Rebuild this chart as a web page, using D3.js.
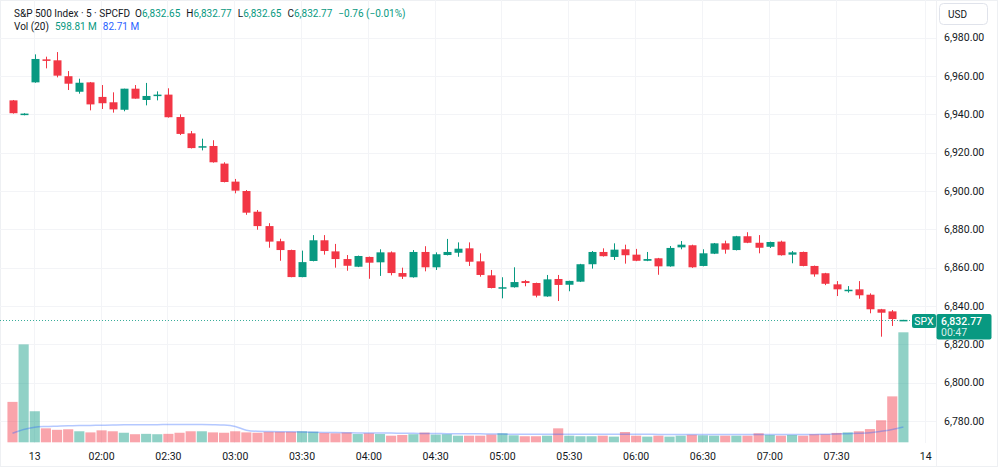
<!DOCTYPE html>
<html>
<head>
<meta charset="utf-8">
<script src="https://cdn.jsdelivr.net/npm/d3@7"></script>
<style>
  html, body { margin: 0; padding: 0; background: #fff; }
  svg { display: block; font-family: Roboto, "Noto Sans", sans-serif; }
</style>
</head>
<body>
<div id="chart"></div>
<script>
// 5 min candles, SPX, last two bars of the 12th then session of the 13th
const opens  = [6947.3, 6939.6, 6956.7, 6968.7, 6968.2, 6959.9, 6951.8, 6956.7, 6949.1, 6946.3,
                6942.4, 6953.4, 6947.5, 6949.8, 6950.3, 6938.6, 6930.1, 6922.8, 6923.5, 6914.3,
                6904.9, 6900.0, 6889.2, 6881.7, 6873.8, 6869.2, 6855.1, 6863.5, 6874.3, 6868.5,
                6864.5, 6860.5, 6865.6, 6862.8, 6868.0, 6857.2, 6855.0, 6868.2, 6860.2, 6866.6,
                6867.8, 6870.1, 6863.3, 6856.0, 6849.2, 6849.8, 6853.0, 6852.0, 6845.0, 6854.1,
                6851.1, 6852.7, 6861.8, 6868.2, 6865.6, 6869.6, 6866.8, 6863.6, 6864.9, 6860.7,
                6870.6, 6871.7, 6860.9, 6867.3, 6872.7, 6869.2, 6876.4, 6873.0, 6870.9, 6873.6,
                6866.8, 6868.2, 6860.9, 6857.1, 6851.3, 6848.1, 6848.7, 6845.9, 6838.3, 6837.2,
                6832.65];
const highs  = [6947.5, 6940.6, 6971.3, 6970.1, 6972.5, 6962.6, 6958.6, 6956.9, 6955.3, 6951.5,
                6953.4, 6955.3, 6956.4, 6952.0, 6953.6, 6940.0, 6931.3, 6927.3, 6926.5, 6915.0,
                6906.3, 6900.5, 6890.1, 6883.2, 6875.1, 6869.4, 6868.9, 6877.0, 6877.0, 6872.4,
                6866.6, 6866.3, 6865.8, 6869.6, 6868.5, 6860.0, 6869.2, 6871.2, 6868.0, 6875.0,
                6873.2, 6873.2, 6867.5, 6858.8, 6855.0, 6860.2, 6853.6, 6852.2, 6856.2, 6856.2,
                6853.2, 6862.0, 6868.7, 6870.1, 6872.7, 6872.0, 6869.8, 6868.2, 6865.1, 6871.3,
                6873.9, 6872.0, 6869.6, 6872.9, 6874.1, 6876.6, 6878.5, 6877.0, 6873.6, 6874.1,
                6868.7, 6868.4, 6861.1, 6857.3, 6853.0, 6850.4, 6853.0, 6846.6, 6838.5, 6837.9,
                6832.77];
const lows   = [6940.4, 6939.5, 6956.5, 6964.0, 6959.3, 6952.7, 6950.8, 6942.1, 6942.8, 6940.9,
                6941.6, 6948.2, 6944.7, 6947.3, 6938.3, 6929.2, 6922.2, 6921.2, 6914.8, 6904.5,
                6898.8, 6887.6, 6879.8, 6870.4, 6863.6, 6855.0, 6855.0, 6863.3, 6866.8, 6860.0,
                6858.4, 6860.3, 6854.2, 6855.7, 6856.0, 6854.1, 6854.8, 6858.1, 6858.8, 6866.4,
                6865.7, 6860.9, 6855.3, 6849.2, 6844.0, 6849.6, 6850.3, 6844.5, 6844.8, 6842.6,
                6847.7, 6852.5, 6859.5, 6865.8, 6864.0, 6862.1, 6863.4, 6863.4, 6856.3, 6860.5,
                6869.6, 6859.9, 6860.7, 6867.1, 6867.3, 6869.0, 6872.8, 6867.5, 6870.3, 6866.3,
                6862.3, 6860.7, 6855.3, 6850.9, 6845.2, 6847.0, 6843.8, 6836.2, 6824.0, 6829.6,
                6832.65];
const closes = [6940.6, 6940.4, 6968.9, 6967.9, 6960.2, 6956.0, 6956.5, 6945.2, 6945.8, 6942.6,
                6953.4, 6948.2, 6949.6, 6950.3, 6938.5, 6929.8, 6922.4, 6923.4, 6915.0, 6904.7,
                6900.2, 6888.7, 6881.7, 6873.6, 6869.2, 6855.1, 6862.9, 6874.3, 6868.7, 6864.5,
                6861.0, 6866.1, 6862.6, 6868.0, 6857.2, 6855.3, 6868.2, 6860.2, 6867.0, 6868.2,
                6869.9, 6863.1, 6856.2, 6849.4, 6849.8, 6852.5, 6852.0, 6845.4, 6853.9, 6851.0,
                6853.1, 6861.8, 6868.2, 6866.0, 6869.4, 6866.5, 6863.6, 6864.5, 6860.7, 6870.3,
                6872.0, 6860.2, 6867.5, 6872.7, 6869.4, 6876.4, 6873.0, 6870.4, 6873.4, 6866.5,
                6868.0, 6860.9, 6856.5, 6851.6, 6848.7, 6848.5, 6845.6, 6838.3, 6836.5, 6833.2,
                6832.77];
// volume in millions
const volumes = [220, 533, 169, 76, 68, 71, 60, 54, 65, 60,
                 52, 44, 46, 44, 46, 52, 60, 60, 54, 52,
                 60, 54, 52, 57, 57, 57, 60, 58, 51, 49,
                 53, 45, 49, 45, 36, 40, 44, 53, 42, 44,
                 36, 36, 36, 42, 49, 38, 33, 33, 36, 76,
                 36, 33, 33, 36, 31, 56, 36, 31, 36, 31,
                 36, 41, 38, 36, 36, 36, 36, 49, 40, 36,
                 40, 36, 44, 44, 51, 54, 60, 72, 120, 250,
                 598.81];
// Vol (20) moving average
const volMA = [49, 70, 82, 86, 88, 90, 91, 92, 93, 94,
               95, 95, 96, 96, 97, 97, 97, 97, 96, 94,
               86, 66, 60, 59, 58, 57, 56, 55, 54, 53,
               52, 51, 51, 50, 50, 49, 49, 48, 48, 47,
               47, 46, 46, 45, 45, 44, 44, 44, 44, 44,
               44, 44, 44, 44, 44, 44, 44, 44, 43, 43,
               43, 43, 43, 42, 42, 42, 42, 42, 42, 42,
               42, 42, 43, 44, 45, 47, 49, 52, 60, 70,
               82.71];
const priceTicks = [6780, 6800, 6820, 6840, 6860, 6880, 6900, 6920, 6940, 6960, 6980];
const timeLabels = ["13", "02:00", "02:30", "03:00", "03:30", "04:00", "04:30",
                    "05:00", "05:30", "06:00", "06:30", "07:00", "07:30", "14"];
const timeLabelIdx = [2, 8, 14, 20, 26, 32, 38, 44, 50, 56, 62, 68, 74, 82];
const lastPrice = 6832.77;

const W = 1000, H = 471;
const plotRight = 936, plotBottom = 443;
const up = "#089981", down = "#F23645";

const x = d3.scaleLinear().domain([0, 80]).range([12.5, 903.4]);
const step = x(1) - x(0);
const y = d3.scaleLinear().domain([6780, 6980]).range([421, 37.7]);
const yv = d3.scaleLinear().domain([0, 598.81]).range([442.3, 332.3]);

const svg = d3.select("#chart").append("svg")
    .attr("width", W).attr("height", H);

// frame
svg.append("rect").attr("x", 0.5).attr("y", 0.5).attr("width", W - 3).attr("height", 466)
    .attr("fill", "none").attr("stroke", "#eef0f3");

// grid
const grid = svg.append("g").attr("stroke", "#f3f4f7").attr("stroke-width", 1);
grid.selectAll(".gy").data(priceTicks).enter().append("line")
    .attr("x1", 0).attr("x2", plotRight)
    .attr("y1", d => Math.round(y(d)) + 0.5).attr("y2", d => Math.round(y(d)) + 0.5);
grid.selectAll(".gx").data(timeLabelIdx).enter().append("line")
    .attr("y1", 0).attr("y2", plotBottom)
    .attr("x1", d => Math.round(x(d)) - 0.5).attr("x2", d => Math.round(x(d)) - 0.5);
svg.append("line").attr("x1", plotRight + 0.5).attr("x2", plotRight + 0.5)
    .attr("y1", 0).attr("y2", 466).attr("stroke", "#f0f1f4");

const idx = d3.range(opens.length);
const isUp = i => closes[i] >= opens[i];

// volume
svg.append("g").selectAll("rect").data(idx).enter().append("rect")
    .attr("x", i => x(i) - step / 2 + 0.5)
    .attr("width", step - 1)
    .attr("y", i => yv(volumes[i]))
    .attr("height", i => yv(0) - yv(volumes[i]))
    .attr("fill", i => isUp(i) ? up : down)
    .attr("fill-opacity", 0.45);

svg.append("path")
    .datum(idx)
    .attr("fill", "none")
    .attr("stroke", "#2962FF")
    .attr("stroke-opacity", 0.35)
    .attr("stroke-width", 1.5)
    .attr("d", d3.line().x(i => x(i)).y(i => yv(volMA[i])).curve(d3.curveMonotoneX));

// last price line
svg.append("line")
    .attr("x1", 0).attr("x2", 912)
    .attr("y1", Math.round(y(lastPrice)) + 0.5).attr("y2", Math.round(y(lastPrice)) + 0.5)
    .attr("stroke", up).attr("stroke-opacity", 0.8)
    .attr("stroke-dasharray", "1,2");

// candles
const bodyW = 8;
const candle = svg.append("g").selectAll("g").data(idx).enter().append("g")
    .attr("fill", i => isUp(i) ? up : down)
    .attr("stroke", i => isUp(i) ? up : down);

candle.append("line")
    .attr("x1", i => Math.round(x(i)) + 0.5).attr("x2", i => Math.round(x(i)) + 0.5)
    .attr("y1", i => y(highs[i])).attr("y2", i => y(lows[i]))
    .attr("stroke-width", 1);

candle.append("rect")
    .attr("stroke", "none")
    .attr("x", i => Math.round(x(i)) + 0.5 - bodyW / 2)
    .attr("width", bodyW)
    .attr("y", i => y(Math.max(opens[i], closes[i])))
    .attr("height", i => Math.max(1.5, Math.abs(y(opens[i]) - y(closes[i]))));

// price axis
const axisFont = 10.5;
svg.append("g").selectAll("text").data(priceTicks).enter().append("text")
    .attr("x", 944).attr("y", d => y(d))
    .attr("dy", "0.35em")
    .attr("font-size", axisFont).attr("fill", "#131722")
    .text(d => d3.format(",.2f")(d));

// time axis
svg.append("g").selectAll("text").data(timeLabels).enter().append("text")
    .attr("x", (d, i) => x(timeLabelIdx[i]))
    .attr("y", 456).attr("dy", "0.35em")
    .attr("text-anchor", "middle")
    .attr("font-size", axisFont).attr("fill", "#131722")
    .text(d => d);

// USD box
svg.append("rect").attr("x", 939.5).attr("y", 3.5).attr("width", 48).attr("height", 21)
    .attr("rx", 4).attr("fill", "#fff").attr("stroke", "#e0e3eb");
svg.append("text").attr("x", 948).attr("y", 14).attr("dy", "0.35em")
    .attr("font-size", 10).attr("fill", "#131722").text("USD");

// symbol tag and price tag
svg.append("rect").attr("x", 912).attr("y", 314).attr("width", 24).attr("height", 14)
    .attr("rx", 2).attr("fill", up);
svg.append("text").attr("x", 924).attr("y", 321).attr("dy", "0.35em")
    .attr("text-anchor", "middle").attr("font-size", 10.5).attr("fill", "#fff").text("SPX");
svg.append("rect").attr("x", 936.5).attr("y", 314).attr("width", 55).attr("height", 25.5)
    .attr("rx", 2).attr("fill", up);
svg.append("text").attr("x", 941).attr("y", 321).attr("dy", "0.35em")
    .attr("font-size", axisFont).attr("font-weight", 500).attr("fill", "#fff")
    .text(d3.format(",.2f")(lastPrice));
svg.append("text").attr("x", 941).attr("y", 332.5).attr("dy", "0.35em")
    .attr("font-size", axisFont).attr("fill", "#fff").attr("fill-opacity", 0.85).text("00:47");

// legend
const legendFont = 10;
const row1 = svg.append("text").attr("x", 14).attr("y", 17)
    .attr("font-size", legendFont).attr("fill", "#131722");
row1.append("tspan").text("S&P 500 Index · 5 · SPCFD");
const ohlc = [["O", opens[80]], ["H", highs[80]], ["L", lows[80]], ["C", closes[80]]];
ohlc.forEach((d, k) => {
    row1.append("tspan").attr("dx", k === 0 ? 5 : 6).text(d[0]);
    row1.append("tspan").attr("fill", up).text(d3.format(",.2f")(d[1]));
});
row1.append("tspan").attr("dx", 6).attr("fill", up).text("−0.76 (−0.01%)");

const row2 = svg.append("text").attr("x", 14).attr("y", 30)
    .attr("font-size", legendFont).attr("fill", "#131722");
row2.append("tspan").text("Vol (20)");
row2.append("tspan").attr("dx", 6).attr("fill", up).text("598.81 M");
row2.append("tspan").attr("dx", 6).attr("fill", "#2962FF").text("82.71 M");
</script>
</body>
</html>
